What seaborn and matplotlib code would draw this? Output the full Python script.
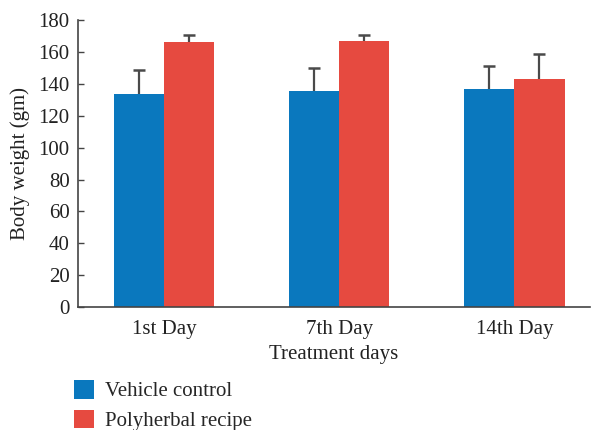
import matplotlib
matplotlib.use('Agg')
import matplotlib.pyplot as plt
import seaborn as sns
import pandas as pd

days = ['1st Day', '7th Day', '14th Day']
groups = ['Vehicle control', 'Polyherbal recipe']
vehicle = [133.5, 135.5, 137.0]
vehicle_sd = [15.5, 14.5, 14.0]
polyherbal = [166.5, 167.0, 143.0]
polyherbal_sd = [4.0, 4.0, 16.0]
colors = ['#0a78be', '#e64a40']

df = pd.DataFrame({
    'day': days * 2,
    'group': [groups[0]] * 3 + [groups[1]] * 3,
    'weight': vehicle + polyherbal,
    'sd': vehicle_sd + polyherbal_sd,
})

sns.set_style('white')
plt.rcParams['font.family'] = ['Liberation Serif', 'DejaVu Serif']
fs = 15

fig = plt.figure(figsize=(6, 4.3), dpi=100)
ax = fig.add_axes([0.13, 0.286, 0.853, 0.667])

sns.barplot(data=df, x='day', y='weight', hue='group', palette=colors,
            width=0.572, gap=0, errorbar=None, saturation=1, ax=ax,
            edgecolor='none', linewidth=0, zorder=2)

# upward-only error bars with a cap on top only, drawn behind the bars
for cont, sds in zip(ax.containers, [vehicle_sd, polyherbal_sd]):
    for bar, s in zip(cont, sds):
        xc = bar.get_x() + bar.get_width() / 2
        h = bar.get_height()
        ax.vlines(xc, h - 2, h + s, color='#4a4a4a', lw=1.6, zorder=1)
        ax.plot([xc], [h + s], marker='_', ms=9, mew=1.8, color='#4a4a4a',
                zorder=1)

ax.set_ylim(0, 180)
ax.set_yticks(range(0, 181, 20))
ax.set_xlim(-0.49, 2.43)
ax.set_ylabel('Body weight (gm)', fontsize=fs, color='#222222', labelpad=6)
ax.set_xlabel('Treatment days', fontsize=fs, color='#222222', labelpad=4)
ax.tick_params(axis='y', left=True, direction='in', length=4, width=1,
               colors='#444444', labelsize=fs, labelcolor='#222222', pad=6)
ax.tick_params(axis='x', bottom=False, labelsize=fs, labelcolor='#222222',
               pad=6)
for side in ['top', 'right']:
    ax.spines[side].set_visible(False)
for side in ['left', 'bottom']:
    ax.spines[side].set_color('#444444')
    ax.spines[side].set_linewidth(1.2)
    ax.spines[side].set_zorder(3)

handles, labels = ax.get_legend_handles_labels()
ax.legend(handles, labels, loc='upper left', bbox_to_anchor=(-0.025, -0.225),
          frameon=False, fontsize=fs, handlelength=1.0, handleheight=1.0,
          handletextpad=0.5, labelspacing=0.4, borderaxespad=0)

fig.savefig('out.png', dpi=100)
